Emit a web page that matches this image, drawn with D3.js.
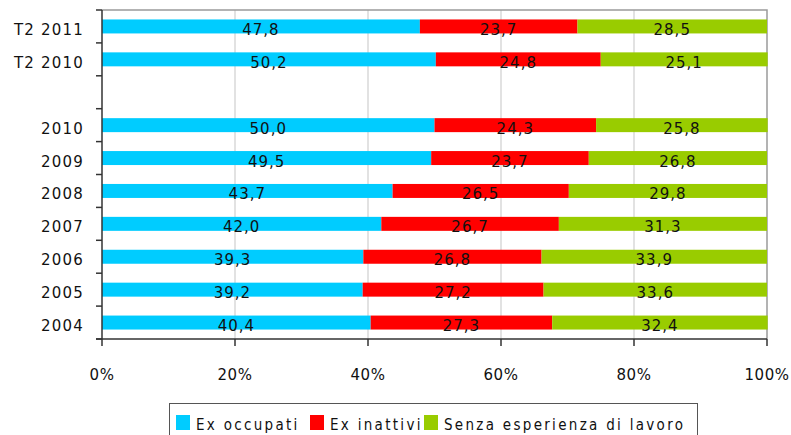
<!DOCTYPE html>
<html>
<head>
<meta charset="utf-8">
<script src="https://cdn.jsdelivr.net/npm/d3@7"></script>
<style>
  body { margin: 0; background: #fff; }
  svg { display: block; font-family: "DejaVu Sans", Verdana, sans-serif; }
</style>
</head>
<body>
<svg id="chart" width="791" height="435"></svg>
<script>
// categories top to bottom; "gap" is the empty row
const categories = ["T2 2011", "T2 2010", "gap", "2010", "2009", "2008", "2007", "2006", "2005", "2004"];
const exOccupati = [47.8, 50.2, null, 50.0, 49.5, 43.7, 42.0, 39.3, 39.2, 40.4];
const exInattivi = [23.7, 24.8, null, 24.3, 23.7, 26.5, 26.7, 26.8, 27.2, 27.3];
const senzaEsperienza = [28.5, 25.1, null, 25.8, 26.8, 29.8, 31.3, 33.9, 33.6, 32.4];
const seriesNames = ["Ex occupati", "Ex inattivi", "Senza esperienza di lavoro"];
const colors = ["#00ccff", "#ff0000", "#99cc00"];
const xTicks = [0, 20, 40, 60, 80, 100];

const svg = d3.select("#chart");
const mLeft = 102, mRight = 767, mTop = 10, mBottom = 339;

const x = d3.scaleLinear().domain([0, 100]).range([mLeft, mRight]);
const y = d3.scaleBand().domain(categories).range([mTop, mBottom])
  .paddingInner(0.575).paddingOuter(0.2875);

const rows = categories.map((c, i) => ({
  cat: c, vals: [exOccupati[i], exInattivi[i], senzaEsperienza[i]]
})).filter(d => d.vals[0] != null);

// gridlines
svg.append("g").selectAll("line").data(xTicks.slice(1, -1)).join("line")
  .attr("x1", d => x(d)).attr("x2", d => x(d))
  .attr("y1", mTop).attr("y2", mBottom)
  .attr("stroke", "#d9d9d9").attr("stroke-width", 1.5);

// plot border (top and right)
svg.append("path")
  .attr("d", `M${mLeft},${mTop}H${mRight}V${mBottom}`)
  .attr("fill", "none").attr("stroke", "#9a9a9a").attr("stroke-width", 1.5);

// bars
const g = svg.append("g");
rows.forEach(r => {
  let acc = 0;
  r.vals.forEach((v, k) => {
    const x0 = acc, x1 = acc + v;
    acc = x1;
    g.append("rect")
      .attr("x", x(x0)).attr("width", x(x1) - x(x0))
      .attr("y", y(r.cat)).attr("height", y.bandwidth())
      .attr("fill", colors[k]);
    g.append("text")
      .attr("x", (x(x0) + x(x1)) / 2)
      .attr("y", y(r.cat) + y.bandwidth() / 2 + 8.5)
      .attr("text-anchor", "middle")
      .attr("font-size", 15)
      .attr("letter-spacing", 1)
      .attr("fill", "#111")
      .text(v.toFixed(1).replace(".", ","));
  });
});

// left axis
const gap = (y.step() - y.bandwidth()) / 2;
const bounds = categories.map(c => y(c) - gap).concat([mBottom]);
svg.append("line").attr("x1", mLeft).attr("x2", mLeft).attr("y1", mTop).attr("y2", mBottom)
  .attr("stroke", "#333").attr("stroke-width", 1.5);
svg.append("g").selectAll("line").data(bounds).join("line")
  .attr("x1", mLeft - 6).attr("x2", mLeft).attr("y1", d => d).attr("y2", d => d)
  .attr("stroke", "#333").attr("stroke-width", 1.5);
svg.append("g").selectAll("text").data(categories.filter(c => c !== "gap")).join("text")
  .attr("x", 84).attr("y", d => y(d) + y.bandwidth() / 2 + 8.5)
  .attr("text-anchor", "end").attr("font-size", 15).attr("letter-spacing", 1.2)
  .attr("fill", "#111").text(d => d);

// bottom axis
svg.append("line").attr("x1", mLeft - 6).attr("x2", mRight).attr("y1", mBottom).attr("y2", mBottom)
  .attr("stroke", "#333").attr("stroke-width", 1.5);
svg.append("g").selectAll("line").data(xTicks).join("line")
  .attr("x1", d => x(d)).attr("x2", d => x(d)).attr("y1", mBottom).attr("y2", mBottom + 7)
  .attr("stroke", "#333").attr("stroke-width", 1.5);
svg.append("g").selectAll("text").data(xTicks).join("text")
  .attr("x", d => x(d)).attr("y", 380)
  .attr("text-anchor", "middle").attr("font-size", 15).attr("letter-spacing", 0.5)
  .attr("fill", "#111").text(d => d + "%");

// legend
const legend = svg.append("g");
legend.append("rect").attr("x", 169.5).attr("y", 403.5).attr("width", 528).attr("height", 40)
  .attr("fill", "#fff").attr("stroke", "#555").attr("stroke-width", 1);
const legendX = [176, 310, 424];
seriesNames.forEach((name, k) => {
  legend.append("rect").attr("x", legendX[k]).attr("y", 415).attr("width", 14).attr("height", 15)
    .attr("fill", colors[k]);
  legend.append("text").attr("x", legendX[k] + 20).attr("y", 430)
    .attr("font-family", "'DejaVu Sans Condensed', 'DejaVu Sans', sans-serif")
    .attr("font-size", 15).attr("letter-spacing", 2.3).attr("fill", "#111").text(name);
});
</script>
</body>
</html>
